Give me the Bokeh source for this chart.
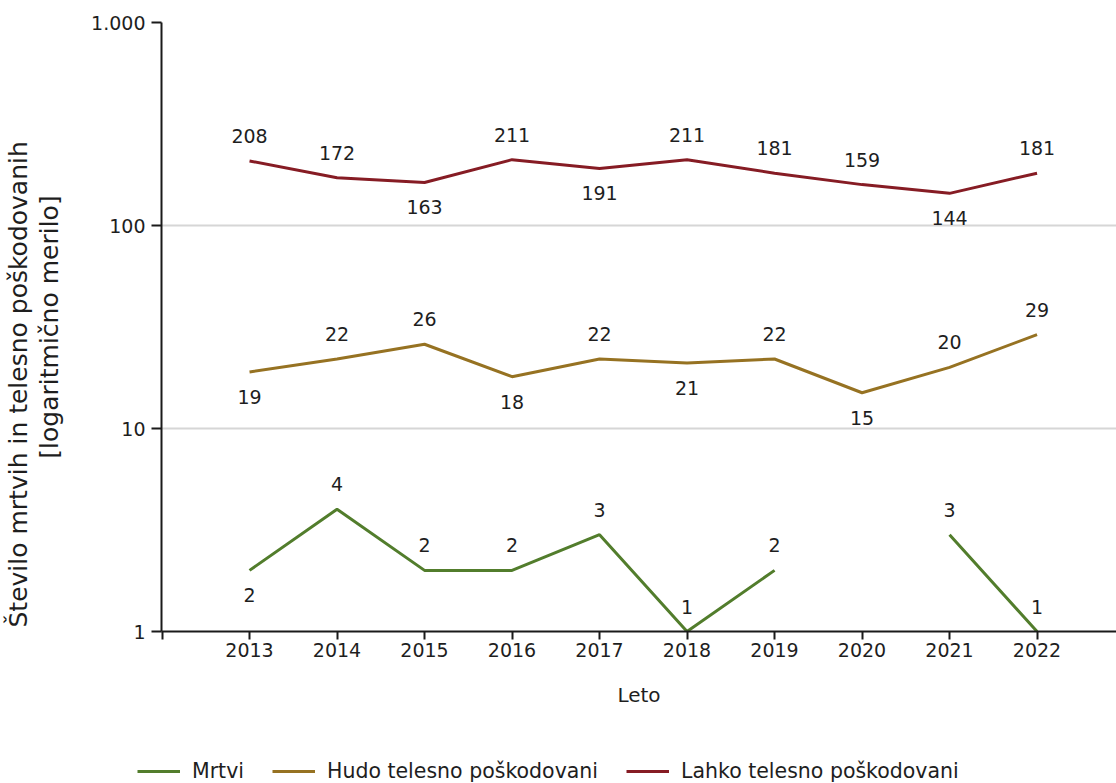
import numpy as np
from bokeh.plotting import figure
from bokeh.layouts import column, row
from bokeh.models import (ColumnDataSource, FixedTicker, CustomJSTickFormatter, Title,
                          Legend, LegendItem, Range1d)
from bokeh.core.properties import value
from bokeh.embed import file_html
from bokeh.resources import INLINE

years = [2013, 2014, 2015, 2016, 2017, 2018, 2019, 2020, 2021, 2022]
mrtvi = [2, 4, 2, 2, 3, 1, 2, np.nan, 3, 1]
hudo = [19, 22, 26, 18, 22, 21, 22, 15, 20, 29]
lahko = [208, 172, 163, 211, 191, 211, 181, 159, 144, 181]

# label placement: a = above point, b = below point
mrtvi_pos = ["b", "a", "a", "a", "a", "a", "a", "", "a", "a"]
hudo_pos = ["b", "a", "a", "b", "a", "b", "a", "b", "a", "a"]
lahko_pos = ["a", "a", "b", "a", "b", "a", "a", "a", "b", "a"]

names = ["Mrtvi", "Hudo telesno poškodovani", "Lahko telesno poškodovani"]
colors = ["#527d2c", "#967222", "#861c24"]
ytitle1 = "Število mrtvih in telesno poškodovanih"
ytitle2 = "[logaritmično merilo]"

FONT = "DejaVu Sans"
FS = "19px"
TXT = "#1e1e1e"

H_MAIN = 720
p = figure(width=1116, height=H_MAIN, y_axis_type="log",
           x_range=(2011.994, 2022.908), y_range=(1, 1000),
           output_backend="svg", toolbar_location=None,
           min_border_left=161, min_border_right=0,
           min_border_top=22, min_border_bottom=H_MAIN - 631)
p.outline_line_color = None
p.background_fill_color = "white"
p.border_fill_color = "white"

# axes
p.xaxis.ticker = FixedTicker(ticks=[2012] + years)
p.xaxis.major_label_overrides = {2012: ""}
p.xaxis.axis_label = "Leto"
p.yaxis.ticker = FixedTicker(ticks=[1, 10, 100, 1000])
p.yaxis.formatter = CustomJSTickFormatter(
    code="return Math.round(tick).toString().replace(/\\B(?=(\\d{3})+(?!\\d))/g, '.');")
for ax in (p.xaxis, p.yaxis):
    ax.axis_line_color = "#1a1a1a"
    ax.axis_line_width = 2
    ax.major_tick_line_color = "#1a1a1a"
    ax.major_tick_line_width = 2
    ax.major_tick_in = 0
    ax.minor_tick_line_color = None
    ax.major_label_text_font = FONT
    ax.major_label_text_font_size = FS
    ax.major_label_text_color = TXT
    ax.axis_label_text_font = FONT
    ax.axis_label_text_font_style = "normal"
    ax.axis_label_text_color = TXT
p.xaxis.axis_label_text_font_size = "20px"
p.xaxis.major_tick_out = 8
p.xaxis.major_label_standoff = 3
p.xaxis.axis_label_standoff = 23
p.yaxis.major_tick_out = 10
p.yaxis.major_label_standoff = 6
p.yaxis.axis_label = ytitle2
p.yaxis.axis_label_text_font_size = "25px"
p.yaxis.axis_label_standoff = 24

p.xgrid.grid_line_color = None
p.ygrid.grid_line_color = "#d6d6d6"
p.ygrid.grid_line_width = 2
p.ygrid.minor_grid_line_color = None

# first line of the y axis title
t1 = Title(text=ytitle1, align="left", offset=4, standoff=0,
           text_font=FONT, text_font_size="25px", text_font_style="normal",
           text_color=TXT)
p.add_layout(t1, "left")

for name, vals, pos, col in zip(names, [mrtvi, hudo, lahko],
                                [mrtvi_pos, hudo_pos, lahko_pos], colors):
    p.line(years, vals, line_color=col, line_width=3)
    xs, ys, ts, offs = [], [], [], []
    for x, v, ps in zip(years, vals, pos):
        if v is None or (isinstance(v, float) and np.isnan(v)):
            continue
        xs.append(x)
        ys.append(v)
        ts.append(str(int(v)))
        offs.append(-25 if ps == "a" else 25)
    src = ColumnDataSource(dict(x=xs, y=ys, t=ts, off=offs))
    p.text(x="x", y="y", text="t", y_offset="off", source=src,
           text_align="center", text_baseline="middle",
           text_font=value(FONT), text_font_size=FS, text_color=TXT)

# legend strip below the chart
H_LEG = 783 - H_MAIN
pl = figure(width=1116, height=H_LEG, x_range=Range1d(0, 1), y_range=Range1d(0, 1),
            output_backend="svg", toolbar_location=None,
            x_axis_location=None, y_axis_location=None,
            min_border=0, min_border_left=0, min_border_right=0)
pl.outline_line_color = None
pl.grid.grid_line_color = None
pl.border_fill_color = "white"
items = []
for name, col in zip(names, colors):
    r = pl.line([5, 6], [5, 6], line_color=col, line_width=3)
    items.append(LegendItem(label=name, renderers=[r]))
legend = Legend(items=items, orientation="horizontal", location=(137, 0),
                label_text_font=FONT, label_text_font_size="20.5px",
                label_text_color=TXT,
                glyph_width=43, glyph_height=20, label_standoff=12, spacing=28,
                padding=0, margin=0, border_line_color=None,
                background_fill_alpha=0)
pl.add_layout(legend, "center")

open("out.html", "w").write(file_html(column(p, row(pl), spacing=0), INLINE))
